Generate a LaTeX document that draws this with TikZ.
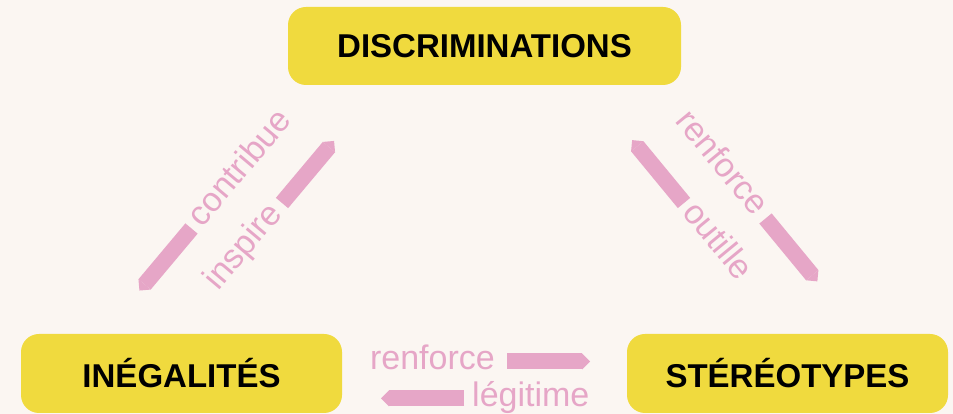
\documentclass[tikz,border=0pt]{standalone}
\usepackage{fontspec}
\setmainfont{Liberation Sans}
\usetikzlibrary{arrows.meta}

\definecolor{bgcream}{HTML}{FBF6F2}
\definecolor{boxyellow}{HTML}{F0DA3E}
\definecolor{linkpink}{HTML}{E6A6C7}

\tikzset{
  theme/.style={fill=boxyellow, rounded corners=18pt, inner sep=0pt,
    font=\bfseries\fontsize{33}{37}\selectfont},
  verb/.style={text=linkpink, inner sep=0pt, font=\fontsize{34}{38}\selectfont},
  bar/.style={draw=linkpink, line width=16pt,
    -{Triangle[length=8pt,width=16pt,line width=0pt]}}
}

\begin{document}
\begin{tikzpicture}[x=1pt,y=1pt]
\fill[bgcream] (0,0) rectangle (953,414);
\useasboundingbox (0,0) rectangle (953,414);

\node[theme, minimum width=393pt, minimum height=78pt] (disc) at (484.5,368) {DISCRIMINATIONS};
\node[theme, minimum width=321pt, minimum height=79pt] (ineg) at (181.5,40.5) {INÉGALITÉS};
\node[theme, minimum width=321pt, minimum height=79pt] (stereo) at (787.5,40.5) {STÉRÉOTYPES};

% left side
\begin{scope}[shift={(191.5,185.5)},rotate=50,transform shape]
\node[verb, anchor=base west] (contrib) at (7,-8.5) {contribue};
\coordinate (contrib1) at (0,0);
\coordinate (contrib2) at (-81,0);
\draw[bar] (contrib1) -- (contrib2);
\end{scope}
\begin{scope}[shift={(282,211)},rotate=50,transform shape]
\node[verb, anchor=base east] (insp) at (-8,-8.5) {inspire};
\coordinate (insp1) at (0,0);
\coordinate (insp2) at (81,0);
\draw[bar] (insp1) -- (insp2);
\end{scope}

% right side
\begin{scope}[shift={(765.5,195.5)},rotate=-50.5,transform shape]
\node[verb, anchor=base east] (renfd) at (-8,-8.5) {renforce};
\coordinate (renfd1) at (0,0);
\coordinate (renfd2) at (81.5,0);
\draw[bar] (renfd1) -- (renfd2);
\end{scope}
\begin{scope}[shift={(684,211)},rotate=-50.5,transform shape]
\node[verb, anchor=base west] (outil) at (6,-8.5) {outille};
\coordinate (outil1) at (0,0);
\coordinate (outil2) at (-81.5,0);
\draw[bar] (outil1) -- (outil2);
\end{scope}

% bottom
\node[verb, anchor=base east] (renfh) at (495,44) {renforce};
\coordinate (renfh1) at (507,52.5);
\coordinate (renfh2) at (590,52.5);
\draw[bar] (renfh1) -- (renfh2);
\node[verb, anchor=base west] (legit) at (472,7.2) {légitime};
\coordinate (legit1) at (464,15.7);
\coordinate (legit2) at (381,15.7);
\draw[bar] (legit1) -- (legit2);
\end{tikzpicture}
\end{document}
